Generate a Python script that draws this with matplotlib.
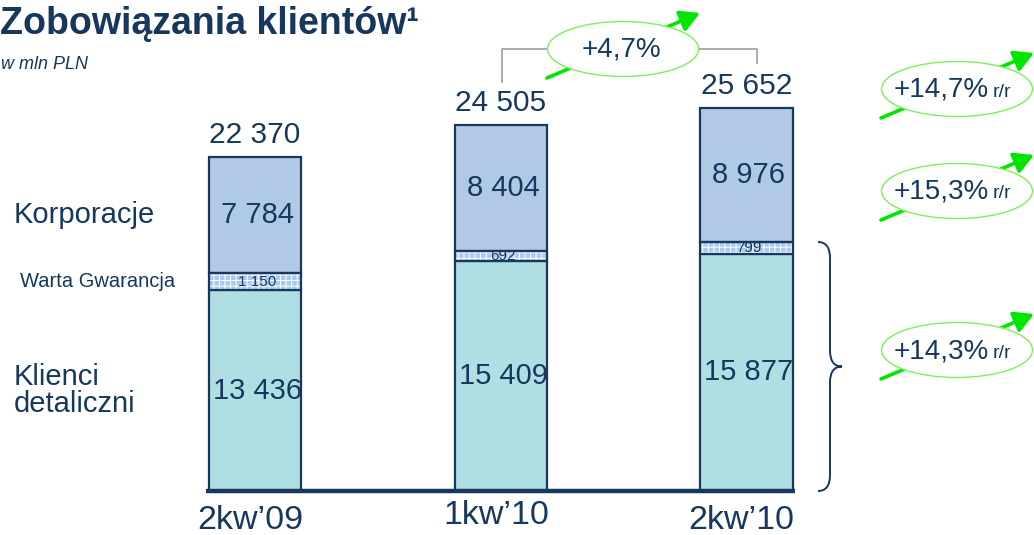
import numpy as np
import matplotlib
matplotlib.use('Agg')
import matplotlib.pyplot as plt
from matplotlib.patches import Ellipse, PathPatch
from matplotlib.path import Path
from matplotlib.transforms import IdentityTransform

plt.rcParams['font.family'] = ['Liberation Sans', 'DejaVu Sans']
plt.rcParams['hatch.linewidth'] = 0.7

# dane (mln PLN)
kwartaly = ["2kw\u201909", "1kw\u201910", "2kw\u201910"]
klienci_detaliczni = [13436, 15409, 15877]
warta_gwarancja = [1150, 692, 799]
korporacje = [7784, 8404, 8976]
razem = [22370, 24505, 25652]
segmenty = ["Korporacje", "Warta Gwarancja", "Klienci\ndetaliczni"]
dynamika_kw = "+4,7%"
dynamika_rr = ["+14,7%", "+15,3%", "+14,3%"]

W, H = 1034, 535
navy = '#17375E'
c_det = '#B0DFE3'
c_korp = '#B0CAE6'
c_warta = '#A8CBEF'
green = '#00E600'
green_edge = '#7CF05A'
gray = '#A6A6A6'

fig = plt.figure(figsize=(W / 100, H / 100), dpi=100)
ax = fig.add_axes([0, 0, 1, 1])
ax.axis('off')

# skala: slupek 3 od y=491 (px) do y=108 (px)
k = (491 - 108) / razem[2]
ax.set_xlim(-255 / 245.75, (W - 255) / 245.75)
ax.set_ylim(-(H - 491) / k, 491 / k)


def P(x, y):
    # piksele obrazka (od gory) -> ulamek figury
    return (x / W, 1 - y / H)


x = np.arange(len(kwartaly))
bw = 0.375
det = np.array(klienci_detaliczni)
war = np.array(warta_gwarancja)
kor = np.array(korporacje)

ax.bar(x, det, bw, color=c_det, edgecolor=navy, linewidth=1.6, zorder=2)
ax.bar(x, war, bw, bottom=det, color=c_warta, edgecolor='white',
       linewidth=0, hatch='+++', zorder=2)
ax.bar(x, war, bw, bottom=det, fill=False, edgecolor=navy, linewidth=1.6, zorder=3)
ax.bar(x, kor, bw, bottom=det + war, color=c_korp, edgecolor=navy,
       linewidth=1.6, zorder=2)

# os pozioma
ax.plot([-bw / 2 - 0.01, 2 + bw / 2 + 0.01], [0, 0], color=navy, lw=3.2,
        solid_capstyle='butt', zorder=4)


def fmt(v):
    return f"{v:,}".replace(",", " ")


for i in x:
    ax.text(i + 0.01, det[i] / 2, fmt(det[i]), ha='center', va='center',
            fontsize=21, color=navy, zorder=5)
    ax.text(i + 0.01, det[i] + war[i] / 2, fmt(war[i]), ha='center', va='center',
            fontsize=11, color=navy, zorder=5)
    ax.text(i + 0.01, det[i] + war[i] + kor[i] / 2, fmt(kor[i]), ha='center',
            va='center', fontsize=21, color=navy, zorder=5)
    ax.annotate(fmt(razem[i]), (i, razem[i]), xytext=(0, 6),
                textcoords='offset points', ha='center', va='bottom',
                fontsize=21.5, color=navy)
    ax.annotate(kwartaly[i], (i - 0.02, 0), xytext=(0, -21 if i != 1 else -18),
                textcoords='offset points', ha='center', va='center',
                fontsize=24.5, color=navy)

# etykiety segmentow (na wysokosci slupka 1)
ax.text(14 / 245.75 - 255 / 245.75, det[0] + war[0] + kor[0] / 2, segmenty[0],
        ha='left', va='center', fontsize=21, color=navy)
ax.text(20 / 245.75 - 255 / 245.75, det[0] + war[0] / 2, segmenty[1],
        ha='left', va='center', fontsize=14.5, color=navy)
ax.text(14 / 245.75 - 255 / 245.75, det[0] / 2, segmenty[2],
        ha='left', va='center', fontsize=21, color=navy, linespacing=0.95)

# tytul
fig.text(*P(0, 34), "Zobowi\u0105zania klient\u00f3w\u00b9", fontsize=27,
         fontweight='bold', color=navy, ha='left', va='baseline')
fig.text(*P(1, 69), "w mln PLN", fontsize=13, style='italic', color=navy,
         ha='left', va='baseline')


def dymek(cx, cy, txt, rr=True):
    # strzalka w tle
    x0, y0 = cx - 76, cy + 29
    x1, y1 = cx + 77, cy - 36
    ax.annotate('', xy=P(x1, y1), xytext=P(x0, y0), xycoords='figure fraction',
                textcoords='figure fraction',
                arrowprops=dict(arrowstyle='-|>,head_length=0.9,head_width=0.5',
                                color=green, lw=2.6, mutation_scale=13,
                                shrinkA=0, shrinkB=0), zorder=6)
    e = Ellipse(P(cx, cy), 151 / W, 55 / H, transform=fig.transFigure,
                facecolor='white', edgecolor=green_edge, lw=1.0, zorder=7)
    ax.add_patch(e)
    if rr:
        ax.text(*P(cx + 32, cy + 1), txt, transform=fig.transFigure,
                fontsize=20, color=navy, ha='right', va='center', zorder=8)
        ax.text(*P(cx + 36, cy + 3), "r/r", transform=fig.transFigure,
                fontsize=14, color=navy, ha='left', va='center', zorder=8)
    else:
        ax.text(*P(cx - 2, cy), txt, transform=fig.transFigure,
                fontsize=20, color=navy, ha='center', va='center', zorder=8)


# klamra +4,7% miedzy 1kw'10 a 2kw'10
ax.plot(*zip(P(502, 82), P(502, 49), P(757, 49), P(757, 63)),
        transform=fig.transFigure, color=gray, lw=1.3, zorder=5)
dymek(623, 49, dynamika_kw, rr=False)

for cy, t in zip([89, 191, 350], dynamika_rr):
    dymek(957, cy, t)

# nawias klamrowy przy 2kw'10 (detaliczni + Warta)
yt = ax.transData.transform((2, det[2] + war[2]))[1]
yb = ax.transData.transform((2, 0))[1]
ym = (yt + yb) / 2
x0, x1, x2 = 818, 830, 842
r = 16
verts = [(x0, yt), (x1, yt), (x1, yt - r),
         (x1, ym + r), (x1, ym), (x2, ym),
         (x1, ym), (x1, ym - r),
         (x1, yb + r), (x1, yb), (x0, yb)]
codes = [Path.MOVETO, Path.CURVE3, Path.CURVE3,
         Path.LINETO, Path.CURVE3, Path.CURVE3,
         Path.CURVE3, Path.CURVE3,
         Path.LINETO, Path.CURVE3, Path.CURVE3]
brace = PathPatch(Path(verts, codes), transform=IdentityTransform(),
                  fill=False, edgecolor=navy, lw=1.4)
fig.add_artist(brace)

fig.savefig('out.png', dpi=100)
